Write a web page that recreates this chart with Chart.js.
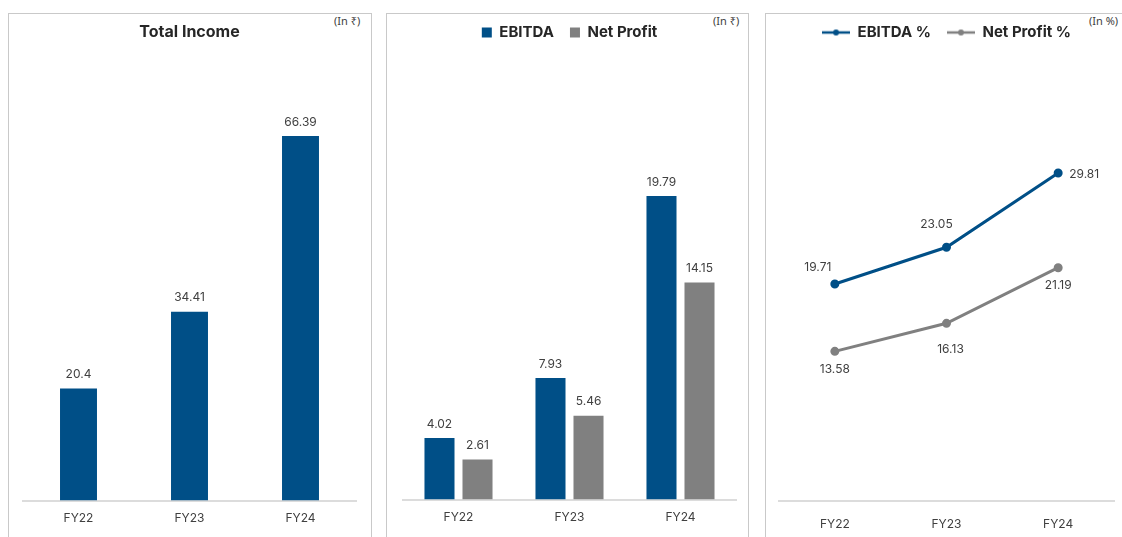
<!DOCTYPE html>
<html>
<head>
<meta charset="utf-8">
<script src="https://cdn.jsdelivr.net/npm/chart.js@4.4.1/dist/chart.umd.min.js"></script>
<style>
  body { margin: 0; width: 1122px; height: 537px; overflow: hidden; background: #fff; font-family: Inter, "Noto Sans", sans-serif; }
  .panel { position: absolute; top: 13px; height: 540px; border: 1.5px solid #c9c9c9; box-sizing: border-box; }
  canvas { position: absolute; }
  .unit { position: absolute; top: 13px; font-size: 11px; color: #404040; font-family: "Noto Sans", "DejaVu Sans", sans-serif; }
</style>
</head>
<body>
<div class="panel" style="left:8px;width:364px"></div>
<div class="panel" style="left:386px;width:363px"></div>
<div class="panel" style="left:765px;width:400px"></div>
<span class="unit" style="left:334px">(In ₹)</span>
<span class="unit" style="left:713px">(In ₹)</span>
<span class="unit" style="left:1089px">(In %)</span>
<canvas id="incomeChart" width="360" height="522" style="left:10px;top:15px"></canvas>
<canvas id="profitChart" width="357" height="527" style="left:389px;top:9px"></canvas>
<canvas id="marginChart" width="354" height="540" style="left:768px;top:9px"></canvas>
<script>
// 数据
const years = ['FY22', 'FY23', 'FY24'];
const totalIncome = [20.4, 34.41, 66.39];
const ebitda = [4.02, 7.93, 19.79];
const netProfit = [2.61, 5.46, 14.15];
const ebitdaPct = [19.71, 23.05, 29.81];
const netProfitPct = [13.58, 16.13, 21.19];

const BLUE = '#004f87';
const GREY = '#808080';
const FONT = 'Inter, "Noto Sans", sans-serif';

Chart.defaults.font.family = FONT;
Chart.defaults.color = '#404040';

// 数值标签插件
const valueLabels = {
    id: 'valueLabels',
    afterDatasetsDraw(chart, args, opts) {
        const ctx = chart.ctx;
        ctx.save();
        ctx.font = '12px ' + FONT;
        ctx.fillStyle = '#404040';
        ctx.textAlign = 'center';
        ctx.textBaseline = 'middle';
        chart.data.datasets.forEach((ds, di) => {
            const meta = chart.getDatasetMeta(di);
            meta.data.forEach((el, i) => {
                let dx = 0, dy = -14;
                if (opts.offsets) {
                    dx = opts.offsets[di][i][0];
                    dy = opts.offsets[di][i][1];
                }
                ctx.fillText(String(ds.data[i]), el.x + dx, el.y + dy);
            });
        });
        ctx.restore();
    }
};

function xAxis(pad) {
    return {
        offset: true,
        grid: { display: false, drawTicks: false },
        border: { color: '#dcdcdc', width: 2 },
        ticks: { padding: pad, font: { size: 12 }, color: '#404040' }
    };
}

// 图例里的线+点
function lineMarker(color) {
    const c = document.createElement('canvas');
    c.width = 28; c.height = 8;
    const g = c.getContext('2d');
    g.strokeStyle = color;
    g.lineWidth = 2.5;
    g.beginPath(); g.moveTo(0, 4); g.lineTo(28, 4); g.stroke();
    g.fillStyle = color;
    g.beginPath(); g.arc(14, 4, 3, 0, Math.PI * 2); g.fill();
    return c;
}

// 总收入
new Chart(document.getElementById('incomeChart'), {
    type: 'bar',
    data: {
        labels: years,
        datasets: [{ label: 'Total Income', data: totalIncome, backgroundColor: BLUE,
            categoryPercentage: 1, barPercentage: 0.333 }]
    },
    options: {
        responsive: false, animation: false,
        layout: { padding: { left: 13, right: 14, bottom: 0 } },
        plugins: {
            legend: { display: false },
            tooltip: { enabled: false },
            title: { display: true, text: 'Total Income', color: '#262626',
                font: { size: 16, weight: 'bold' }, padding: { top: 8, bottom: 18 } }
        },
        scales: { x: xAxis(11), y: { display: false, min: 0, max: 80.2 } }
    },
    plugins: [valueLabels]
});

// EBITDA 和净利润
new Chart(document.getElementById('profitChart'), {
    type: 'bar',
    data: {
        labels: years,
        datasets: [
            { label: 'EBITDA', data: ebitda, backgroundColor: BLUE, categoryPercentage: 0.685, barPercentage: 0.79 },
            { label: 'Net Profit', data: netProfit, backgroundColor: GREY, categoryPercentage: 0.685, barPercentage: 0.79 }
        ]
    },
    options: {
        responsive: false, animation: false,
        layout: { padding: { left: 14, right: 10, bottom: 0 } },
        plugins: {
            tooltip: { enabled: false },
            legend: {
                labels: { boxWidth: 10, boxHeight: 10, padding: 16, color: '#262626',
                    font: { size: 15, weight: 'bold' } }
            }
        },
        scales: { x: xAxis(11), y: { display: false, min: 0, max: 29.3 } }
    },
    plugins: [valueLabels]
});

// 利润率
new Chart(document.getElementById('marginChart'), {
    type: 'line',
    data: {
        labels: years,
        datasets: [
            { label: 'EBITDA %', data: ebitdaPct, borderColor: BLUE, backgroundColor: BLUE,
                borderWidth: 3, pointRadius: 3, pointBackgroundColor: BLUE },
            { label: 'Net Profit %', data: netProfitPct, borderColor: GREY, backgroundColor: GREY,
                borderWidth: 3, pointRadius: 3, pointBackgroundColor: GREY }
        ]
    },
    options: {
        responsive: false, animation: false,
        layout: { padding: { left: 11, right: 8, bottom: 0 } },
        plugins: {
            tooltip: { enabled: false },
            legend: {
                labels: {
                    usePointStyle: true, pointStyleWidth: 28, padding: 16, color: '#262626',
                    font: { size: 15, weight: 'bold' },
                    generateLabels(chart) {
                        const items = Chart.defaults.plugins.legend.labels.generateLabels(chart);
                        items.forEach(it => { it.pointStyle = lineMarker(it.strokeStyle); });
                        return items;
                    }
                }
            },
            valueLabels: {
                offsets: [
                    [[-17, -17], [-10, -23], [26, 1]],
                    [[0, 18], [4, 26], [0, 18]]
                ]
            }
        },
        scales: { x: xAxis(17), y: { display: false, min: 0, max: 41.0 } }
    },
    plugins: [valueLabels]
});
</script>
</body>
</html>
